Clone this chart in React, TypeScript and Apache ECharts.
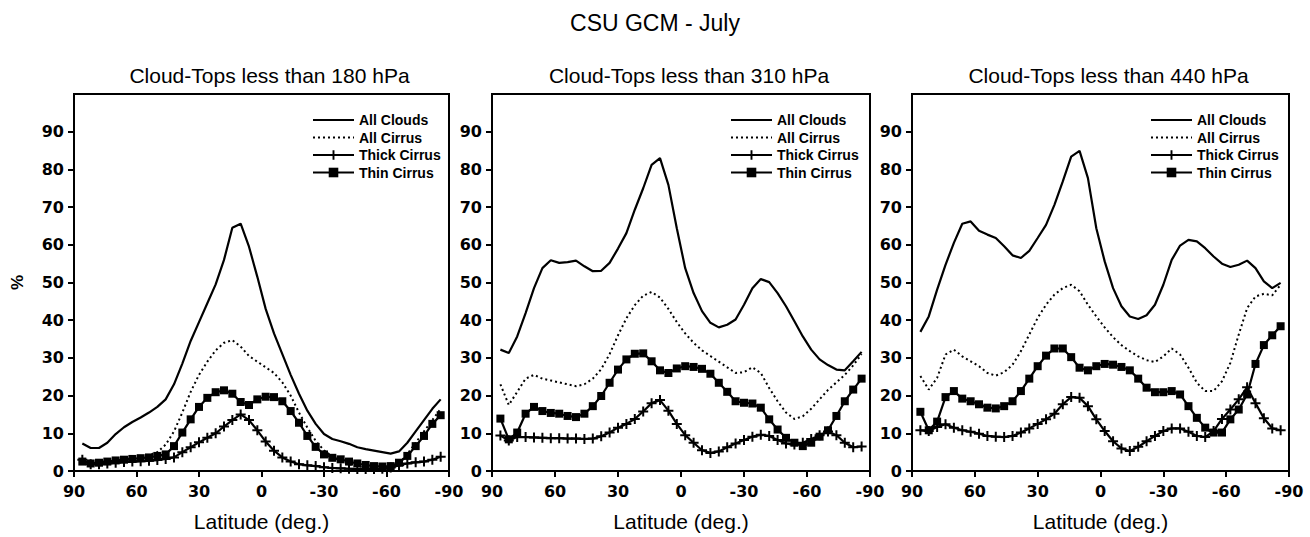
import React, { useEffect, useRef } from 'react';
import * as echarts from 'echarts';

const LAT = [86, 82, 78, 74, 70, 66, 62, 58, 54, 50, 46, 42, 38, 34, 30, 26, 22, 18, 14, 10, 6, 2,
  -2, -6, -10, -14, -18, -22, -26, -30, -34, -38, -42, -46, -50, -54, -58, -62, -66, -70, -74, -78, -82, -86];

const SERIES_NAMES = ['All Clouds', 'All Cirrus', 'Thick Cirrus', 'Thin Cirrus'];
const PANEL_TITLES = ['Cloud-Tops less than 180 hPa', 'Cloud-Tops less than 310 hPa', 'Cloud-Tops less than 440 hPa'];
const MAIN_TITLE = 'CSU GCM - July';
const X_NAME = 'Latitude (deg.)';
const Y_NAME = '%';
const Y_TICKS = [0, 10, 20, 30, 40, 50, 60, 70, 80, 90];

// Panel 1: cloud tops < 180 hPa
const P1_ALL_CLOUDS = [7.3, 6.1, 6.1, 7.5, 9.8, 11.6, 13.0, 14.2, 15.5, 17.0, 19.0, 23.0, 28.5, 34.5, 39.5, 44.5, 49.5, 56.0, 64.5, 65.6, 59.5, 51.5,
  43.0, 36.5, 31.0, 25.5, 20.5, 16.0, 12.5, 9.8, 8.5, 7.9, 7.2, 6.3, 5.8, 5.4, 5.0, 4.6, 5.2, 7.5, 10.5, 13.5, 16.5, 19.0];
const P1_ALL_CIRRUS = [2.0, 2.2, 2.4, 2.6, 2.9, 3.1, 3.4, 3.7, 4.2, 5.0, 7.0, 10.5, 15.5, 21.0, 25.5, 29.0, 32.0, 34.0, 34.7, 33.0, 30.5, 29.0,
  27.5, 26.0, 23.5, 20.0, 15.5, 11.5, 8.0, 5.5, 3.8, 2.6, 1.8, 1.3, 1.0, 0.9, 0.9, 1.1, 2.0, 4.5, 7.5, 10.5, 13.5, 16.5];
const P1_THICK = [3.0, 1.8, 1.8, 2.0, 2.2, 2.4, 2.5, 2.6, 2.7, 2.9, 3.2, 3.6, 5.0, 6.3, 7.6, 8.8, 10.0, 11.8, 13.5, 15.0, 13.5, 10.8,
  7.8, 5.4, 3.6, 2.5, 1.8, 1.5, 1.3, 1.0, 0.8, 0.7, 0.6, 0.5, 0.5, 0.5, 0.6, 0.9, 1.5, 2.0, 2.3, 2.5, 3.0, 3.8];
const P1_THIN = [2.5, 2.0, 2.2, 2.5, 2.8, 3.0, 3.2, 3.4, 3.6, 4.0, 4.4, 6.6, 10.2, 13.7, 17.0, 19.4, 20.9, 21.4, 20.5, 18.3, 17.5, 19.0,
  19.7, 19.6, 18.5, 15.9, 12.8, 9.3, 6.4, 4.4, 3.5, 3.1, 2.5, 2.0, 1.6, 1.3, 1.2, 1.3, 2.2, 4.0, 6.6, 9.3, 12.5, 14.8];

// Panel 2: cloud tops < 310 hPa
const P2_ALL_CLOUDS = [32.2, 31.3, 35.7, 41.9, 48.5, 53.8, 55.9, 55.2, 55.4, 55.8, 54.3, 53.0, 53.1, 55.2, 59.0, 63.1, 69.3, 75.0, 81.2, 83.0, 75.9, 64.4,
  53.8, 47.2, 42.4, 39.3, 38.1, 38.8, 40.2, 44.1, 48.5, 50.9, 50.1, 47.2, 43.7, 39.7, 35.7, 32.2, 29.6, 28.1, 26.9, 26.7, 29.1, 31.6];
const P2_ALL_CIRRUS = [23.0, 17.5, 21.0, 24.5, 25.5, 24.5, 24.0, 23.5, 23.0, 22.5, 23.0, 24.5, 27.0, 31.0, 36.0, 40.5, 44.0, 46.5, 47.5, 46.0, 43.0, 39.5,
  36.5, 34.0, 32.0, 30.5, 29.0, 27.5, 26.0, 26.2, 27.5, 26.0, 22.0, 18.5, 15.5, 13.8, 14.5, 16.5, 19.0, 21.5, 23.5, 25.5, 28.0, 31.0];
const P2_THICK = [9.4, 8.1, 9.0, 9.0, 8.9, 8.8, 8.7, 8.7, 8.6, 8.6, 8.5, 8.6, 9.2, 10.2, 11.5, 12.5, 13.8, 15.8, 18.0, 18.8, 16.0, 12.5,
  9.5, 7.5, 5.5, 4.8, 5.2, 6.3, 7.3, 8.2, 9.1, 9.6, 9.3, 8.2, 7.3, 7.0, 7.5, 8.5, 9.5, 10.5, 9.5, 7.5, 6.3, 6.5];
const P2_THIN = [13.9, 8.4, 10.2, 15.2, 17.0, 15.9, 15.4, 15.2, 14.6, 14.3, 15.2, 17.2, 19.9, 23.4, 26.9, 29.6, 31.1, 31.2, 29.1, 26.7, 26.0, 27.2,
  27.8, 27.6, 27.1, 25.8, 23.4, 21.0, 18.5, 18.1, 17.9, 16.8, 13.7, 11.0, 8.8, 7.5, 6.6, 7.5, 9.1, 10.8, 14.6, 18.5, 21.6, 24.5];

// Panel 3: cloud tops < 440 hPa
const P3_ALL_CLOUDS = [36.9, 41.0, 48.1, 54.7, 60.5, 65.6, 66.2, 63.7, 62.7, 61.8, 59.6, 57.2, 56.5, 58.4, 61.8, 65.3, 70.6, 76.8, 83.4, 84.9, 77.7, 64.4,
  55.6, 48.5, 43.7, 41.0, 40.3, 41.3, 44.1, 49.4, 56.0, 59.8, 61.3, 60.9, 59.1, 56.9, 55.0, 54.1, 54.7, 55.8, 53.8, 50.3, 48.5, 49.9];
const P3_ALL_CIRRUS = [25.2, 21.6, 24.7, 30.9, 32.2, 30.4, 29.1, 27.8, 26.0, 25.3, 26.2, 28.2, 31.8, 36.2, 40.6, 44.1, 46.8, 48.5, 49.4, 47.7, 44.1, 41.0,
  38.1, 35.5, 33.4, 31.8, 30.4, 29.4, 28.9, 30.4, 32.5, 30.9, 27.4, 23.4, 21.2, 21.2, 23.8, 28.7, 36.2, 43.2, 46.3, 47.0, 46.6, 49.4];
const P3_THICK = [10.8, 10.6, 11.7, 12.4, 11.5, 10.8, 10.4, 9.9, 9.3, 9.1, 9.0, 9.3, 10.2, 11.3, 12.5, 13.7, 15.2, 17.7, 19.6, 19.4, 17.2, 13.7,
  10.6, 7.9, 6.0, 5.3, 6.4, 7.9, 9.3, 10.6, 11.3, 11.3, 10.4, 9.3, 9.0, 10.6, 13.8, 16.3, 19.0, 22.2, 18.0, 14.0, 11.3, 10.8];
const P3_THIN = [15.7, 10.8, 13.1, 19.6, 21.2, 19.2, 18.5, 17.7, 16.8, 16.6, 17.2, 18.5, 21.2, 24.5, 27.8, 30.6, 32.5, 32.5, 30.2, 27.4, 26.7, 27.8,
  28.4, 28.2, 27.6, 26.7, 24.5, 22.1, 20.9, 20.9, 21.2, 20.3, 17.2, 14.1, 11.5, 10.2, 10.2, 13.7, 16.3, 20.3, 28.4, 33.4, 36.0, 38.4];

const PANELS = [
  [P1_ALL_CLOUDS, P1_ALL_CIRRUS, P1_THICK, P1_THIN],
  [P2_ALL_CLOUDS, P2_ALL_CIRRUS, P2_THICK, P2_THIN],
  [P3_ALL_CLOUDS, P3_ALL_CIRRUS, P3_THICK, P3_THIN],
];

const GRID_LEFT = [74, 492, 912];
const GRID_WIDTH = [375, 378, 377];
const GRID_TOP = 94;
const GRID_HEIGHT = 379;

const PLUS = 'path://M4,0H6V4H10V6H6V10H4V6H0V4H4Z';
const FONT = '"Liberation Sans", Arial, Helvetica, sans-serif';
const TICK_FONT = '"DejaVu Sans", "Liberation Sans", Arial, sans-serif';

export default function App() {
  const ref = useRef<HTMLDivElement>(null);
  useEffect(() => {
    const chart = echarts.init(ref.current as HTMLDivElement, null, { renderer: 'svg' });
    const txt = (size: number, weight: string = 'bold', family: string = FONT) =>
      ({ fontSize: size, fontWeight: weight, color: '#000', fontFamily: family });

    const grid = GRID_LEFT.map((l, i) => ({
      left: l, top: GRID_TOP, width: GRID_WIDTH[i], height: GRID_HEIGHT,
      show: true, borderColor: '#000', borderWidth: 2, backgroundColor: 'transparent',
    }));

    const xAxis = GRID_LEFT.map((_, i) => ({
      type: 'value', gridIndex: i, min: -90, max: 90, interval: 30, inverse: true,
      name: X_NAME, nameLocation: 'middle', nameGap: 40, nameTextStyle: txt(21, 'normal'),
      axisLine: { show: true, onZero: false, lineStyle: { color: '#000', width: 2 } },
      axisTick: { show: true, inside: false, length: 6, lineStyle: { color: '#000', width: 2 } },
      axisLabel: { ...txt(16, 'bold', TICK_FONT), margin: 12 },
      splitLine: { show: false },
    }));

    const yAxis = GRID_LEFT.map((_, i) => ({
      type: 'value', gridIndex: i, min: 0, max: 100, interval: 10,
      name: i === 0 ? Y_NAME : '', nameLocation: 'middle', nameGap: 48, nameRotate: 90, nameTextStyle: txt(17),
      axisLine: { show: true, onZero: false, lineStyle: { color: '#000', width: 2 } },
      axisTick: { show: true, inside: false, length: 6, lineStyle: { color: '#000', width: 2 }, customValues: Y_TICKS },
      axisLabel: { ...txt(16, 'bold', TICK_FONT), margin: 10, customValues: Y_TICKS },
      splitLine: { show: false },
    }));

    const series: any[] = [];
    PANELS.forEach((vals, p) => {
      vals.forEach((arr, s) => {
        const data = LAT.map((lat, k) => [lat, arr[k]]);
        const base: any = {
          type: 'line', name: SERIES_NAMES[s], xAxisIndex: p, yAxisIndex: p, data,
          lineStyle: { color: '#000', width: 2.2 }, itemStyle: { color: '#000' },
          emphasis: { disabled: true }, z: 2 + s,
        };
        if (s === 0) { base.symbol = 'none'; }
        if (s === 1) { base.symbol = 'none'; base.lineStyle = { color: '#000', width: 2, type: [2, 3] }; }
        if (s === 2) { base.symbol = PLUS; base.symbolSize = 10; }
        if (s === 3) { base.symbol = 'rect'; base.symbolSize = 8; }
        series.push(base);
      });
    });

    const legendData = SERIES_NAMES.map((n, s) =>
      s < 2 ? { name: n, itemStyle: { opacity: 0 } } : { name: n });

    const legend = GRID_LEFT.map((l) => ({
      orient: 'vertical', left: l + 233, top: 108, itemWidth: 41, itemHeight: 12, itemGap: 3.5,
      textStyle: txt(14), data: legendData, selectedMode: false,
    }));

    const title: any[] = [
      { text: MAIN_TITLE, left: 'center', top: 6, textStyle: txt(23, 'normal') },
      ...PANEL_TITLES.map((t, i) => ({
        text: t, left: GRID_LEFT[i] + GRID_WIDTH[i] / 2 + 3, textAlign: 'center', top: 60, textStyle: txt(21, 'normal'),
      })),
    ];

    chart.setOption({
      animation: false,
      backgroundColor: '#fff',
      title, grid, xAxis, yAxis, legend, series,
    } as any);
    return () => chart.dispose();
  }, []);
  return <div ref={ref} style={{ position: 'fixed', left: 0, top: 0, width: 1310, height: 537, background: '#fff' }} />;
}
